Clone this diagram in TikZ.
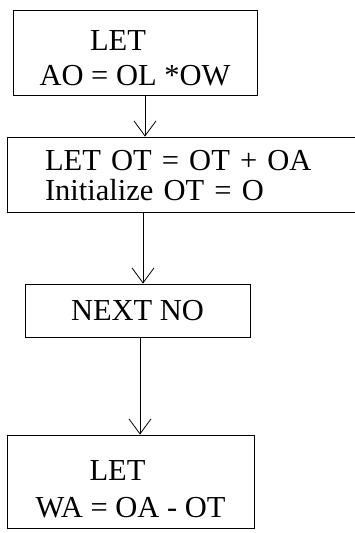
\documentclass[tikz,border=0pt]{standalone}
\usepackage{fontspec}
\setmainfont{Liberation Serif}
\usetikzlibrary{arrows.meta}

\begin{document}
\begin{tikzpicture}[x=1pt, y=-1pt,
  font=\fontsize{30.5}{30}\selectfont,
  stepbox/.style={draw, line width=0.8pt, align=center, text depth=0pt},
  flow/.style={line width=0.8pt, -{Straight Barb[length=15pt,width=22pt,line width=0.8pt]}}]
\useasboundingbox (0,0) rectangle (354,533);
\node[stepbox, minimum width=244pt, minimum height=85pt, text height=66pt] (let1) at (135,52.5)
      {LET\hspace*{34pt}\\[5pt]AO = OL *OW};
\node[stepbox, align=left, text width=287pt, inner xsep=38pt,
      minimum height=75pt, text height=22pt, text depth=30pt] (let2) at (188.5,174.5)
      {LET OT = OT + OA\\Initialize OT = O};
\node[stepbox, minimum width=225pt, minimum height=53pt, text height=20pt] (next) at (137.5,310.5)
      {NEXT NO};
\node[stepbox, minimum width=247pt, minimum height=93pt, text height=72pt] (let3) at (130.5,481.5)
      {LET\hspace*{26pt}\\[7pt]WA = OA - OT};
\coordinate (a1) at ([xshift=10pt]let1.south);
\coordinate (a2) at ([xshift=5.5pt]next.north);
\coordinate (a3) at ([xshift=9.5pt]let3.north);
\draw[flow] (a1) -- (a1 |- let2.north);
\draw[flow] (a2 |- let2.south) -- (a2);
\draw[flow] (a3 |- next.south) -- (a3);
\end{tikzpicture}
\end{document}
